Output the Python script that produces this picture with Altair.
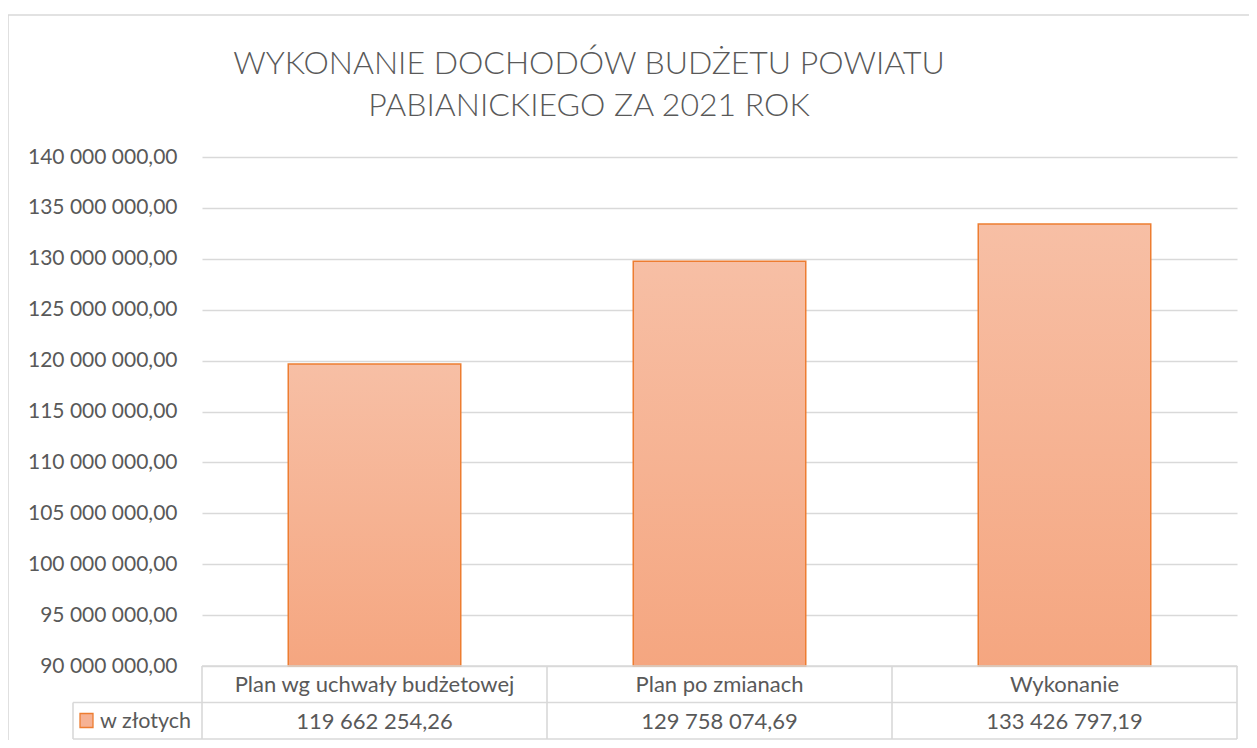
import altair as alt
import pandas as pd

title_lines = ["WYKONANIE DOCHODÓW BUDŻETU POWIATU", "PABIANICKIEGO ZA 2021 ROK"]
categories = ["Plan wg uchwały budżetowej", "Plan po zmianach", "Wykonanie"]
values = [119662254.26, 129758074.69, 133426797.19]
value_labels = ["119 662 254,26", "129 758 074,69", "133 426 797,19"]
series_name = "w złotych"
y_ticks = [90000000 + 5000000 * i for i in range(11)]

W, H = 1035, 509
FONT = "Lato"
GREY = "#595959"
LINE = "#D9D9D9"
ORANGE = "#ED7D31"
ROW = 36.5

df = pd.DataFrame({"cat": categories, "val": values, "lab": value_labels})

xscale = alt.Scale(domain=categories, paddingInner=0.5, paddingOuter=0.25)
yscale = alt.Scale(domain=[90000000, 140000000], zero=False, nice=False)

grad = alt.Gradient(
    gradient="linear",
    stops=[alt.GradientStop(color="#F7BFA5", offset=0),
           alt.GradientStop(color="#F5A680", offset=1)],
    x1=0, x2=0, y1=0, y2=1,
)

bars = alt.Chart(df).mark_bar(fill=grad, stroke=ORANGE, strokeWidth=1.5).encode(
    x=alt.X("cat:N", scale=xscale, axis=None, sort=categories),
    y=alt.Y("val:Q", scale=yscale, title=None,
            axis=alt.Axis(values=y_ticks, grid=True, gridColor=LINE, gridWidth=1.3, domain=False, ticks=False,
                          labelFont=FONT, labelFontSize=21, labelColor=GREY, labelPadding=25,
                          labelExpr="replace(replace(format(datum.value, ',.2f'), regexp(',', 'g'), ' '), '.', ',')")),
    y2=alt.datum(90000000),
)

head_text = alt.Chart(df).mark_text(font=FONT, fontSize=22, color=GREY, baseline="middle").encode(
    x=alt.X("cat:N", scale=xscale, axis=None, sort=categories),
    y=alt.value(H + 19),
    text="cat:N",
)
val_text = alt.Chart(df).mark_text(font=FONT, fontSize=22, color=GREY, baseline="middle").encode(
    x=alt.X("cat:N", scale=xscale, axis=None, sort=categories),
    y=alt.value(H + 19 + ROW),
    text="lab:N",
)

# table grid lines (pixel positions relative to plot area)
col = W / 3
lines = [
    dict(x=0, x2=W, y=H, y2=H),
    dict(x=-129, x2=W, y=H + ROW, y2=H + ROW),
    dict(x=-129, x2=W, y=H + 2 * ROW, y2=H + 2 * ROW),
    dict(x=-129, x2=-129, y=H + ROW, y2=H + 2 * ROW),
] + [dict(x=i * col, x2=i * col, y=H, y2=H + 2 * ROW) for i in range(4)]
ldf = pd.DataFrame(lines)
grid = alt.Chart(ldf).mark_rule(color=LINE, strokeWidth=1.6).encode(
    x=alt.X("x:Q", scale=None, axis=None), x2="x2:Q",
    y=alt.Y("y:Q", scale=None, axis=None), y2="y2:Q",
)

frame = alt.Chart(pd.DataFrame({"a": [0]})).mark_rect(fill=None, stroke=LINE, strokeWidth=1.6).encode(
    x=alt.value(-194), x2=alt.value(W + 40), y=alt.value(-142), y2=alt.value(H + 120),
)

swatch = alt.Chart(pd.DataFrame({"s": [series_name]})).mark_rect(
    fill="#F6B294", stroke=ORANGE, strokeWidth=1.3).encode(
    x=alt.value(-122), x2=alt.value(-109), y=alt.value(H + ROW + 11), y2=alt.value(H + ROW + 25),
)
legend_text = alt.Chart(pd.DataFrame({"s": [series_name]})).mark_text(
    font=FONT, fontSize=21.5, color=GREY, align="left", baseline="middle").encode(
    x=alt.value(-102), y=alt.value(H + 19 + ROW), text="s:N",
)

title = alt.Chart(pd.DataFrame({"t": title_lines, "i": [0, 1]})).mark_text(
    font=FONT, fontSize=32, fontWeight=300, color=GREY, align="center", baseline="alphabetic").encode(
    x=alt.value(387),
    y=alt.Y("i:Q", scale=alt.Scale(domain=[0, 1], range=[-83, -41]), axis=None),
    text="t:N",
)

chart = alt.layer(frame, bars, grid, head_text, val_text, swatch, legend_text, title).resolve_scale(
    x="independent", y="independent"
).properties(
    width=W, height=H,
    autosize=alt.AutoSizeParams(type="none"),
    padding={"left": 194, "top": 149, "right": 12, "bottom": 74},
).configure_view(stroke=None)

chart.save("out.html", embed_options={"renderer": "svg", "actions": False})
